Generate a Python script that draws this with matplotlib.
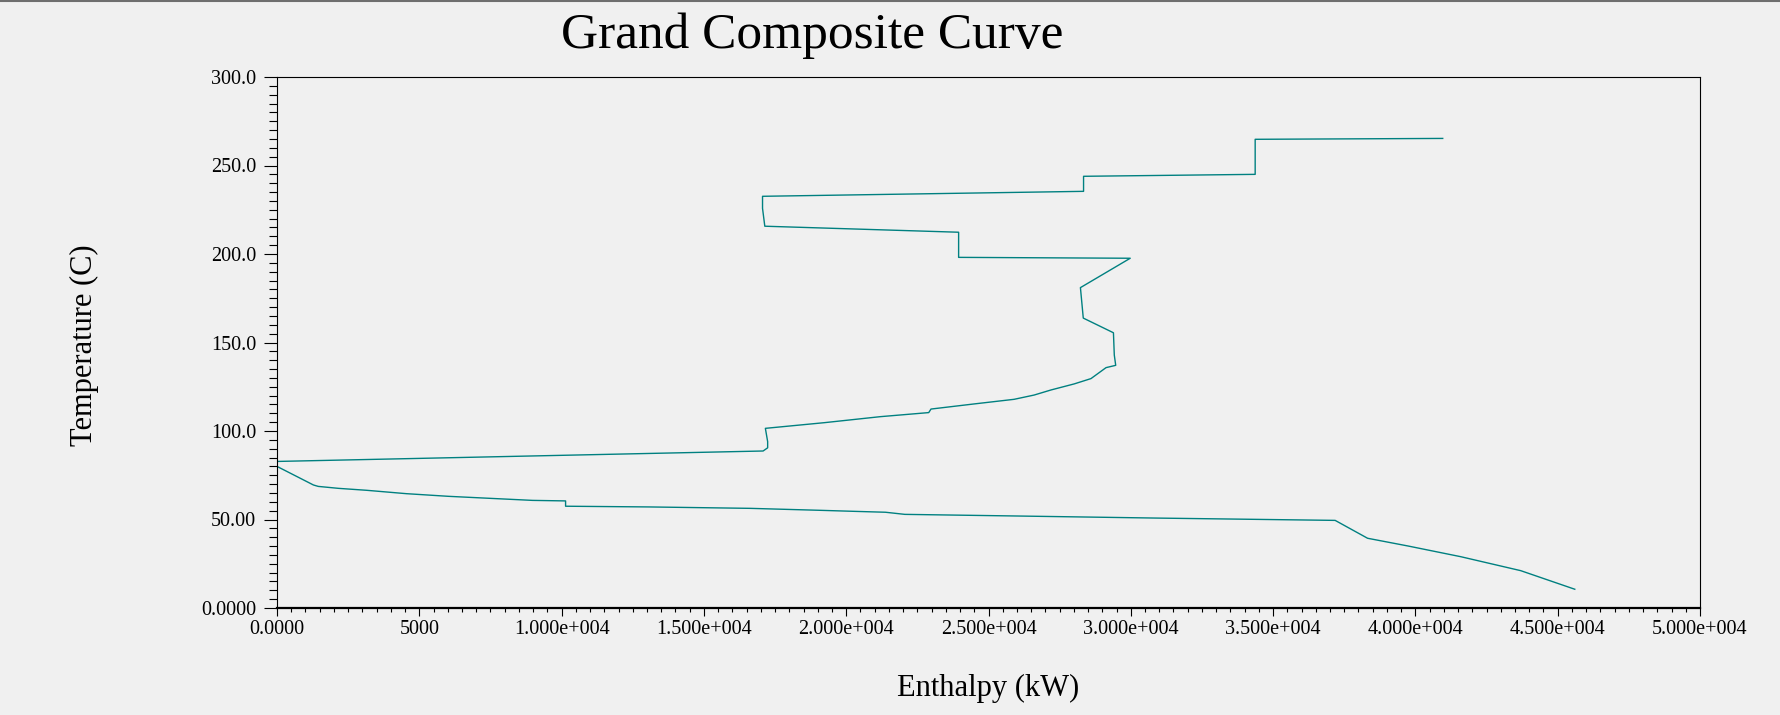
import matplotlib
matplotlib.use("Agg")
import matplotlib.pyplot as plt
from matplotlib.lines import Line2D
from matplotlib.ticker import MultipleLocator

# Grand composite curve : enthalpie (kW) et temperature (C), du haut vers le bas
enthalpie = [40960, 34370, 34370, 28340, 28340, 17060, 17060, 17140, 23950, 23950,
             29980, 28230, 28330, 29390, 29420, 29470, 29130, 28600, 28010, 27200,
             26600, 25900, 24500, 22980, 22900, 21200, 19230, 17160, 17240, 17240,
             17080, 0, 0, 1280, 1450, 2160, 3150, 4540, 6020, 7430,
             8980, 10140, 10140, 13060, 16630, 19060, 20300, 21380, 22060, 25900,
             30930, 37180, 38320, 39750, 41590, 43700, 45600]
temperature = [265.3, 264.8, 245.0, 243.9, 235.4, 232.6, 225.8, 215.7, 212.3, 198.1,
               197.6, 181.0, 163.8, 155.5, 142.9, 137.1, 135.8, 129.6, 126.6, 123.2,
               120.3, 117.9, 115.3, 112.4, 110.4, 108.1, 104.7, 101.5, 94.0, 90.5,
               88.7, 82.8, 80.0, 69.5, 68.7, 67.6, 66.5, 64.6, 63.1, 62.0,
               60.8, 60.5, 57.5, 57.1, 56.3, 55.2, 54.6, 54.1, 52.9, 52.0,
               50.8, 49.5, 39.4, 35.0, 29.0, 21.1, 10.6]

# Graduations et libelles des axes
x_ticks = [0, 5000, 10000, 15000, 20000, 25000, 30000, 35000, 40000, 45000, 50000]
x_labels = ["0.0000", "5000", "1.000e+004", "1.500e+004", "2.000e+004", "2.500e+004",
            "3.000e+004", "3.500e+004", "4.000e+004", "4.500e+004", "5.000e+004"]
y_ticks = [0, 50, 100, 150, 200, 250, 300]
y_labels = ["0.0000", "50.00", "100.0", "150.0", "200.0", "250.0", "300.0"]

fond = '#f0f0f0'
couleur = '#008080'
police = 'Liberation Serif'

plt.rcParams['font.family'] = [police, 'DejaVu Serif']

fig = plt.figure(figsize=(17.8, 7.15), dpi=100, facecolor=fond)
ax = fig.add_axes([277 / 1780, 1 - 608 / 715, 1423 / 1780, 531 / 715])
ax.set_facecolor(fond)

# La courbe
ax.plot(enthalpie, temperature, color=couleur, linewidth=1.0)

ax.set_xlim(0, 50000)
ax.set_ylim(0, 300)

ax.set_xticks(x_ticks)
ax.set_xticklabels(x_labels)
ax.set_yticks(y_ticks)
ax.set_yticklabels(y_labels)
ax.xaxis.set_minor_locator(MultipleLocator(500))
ax.yaxis.set_minor_locator(MultipleLocator(5))

ax.tick_params(axis='x', which='major', direction='out', length=5.5, width=0.8,
               pad=3.5, labelsize=14.5, colors='black')
ax.tick_params(axis='x', which='minor', direction='out', length=3, width=0.8)
ax.tick_params(axis='y', which='major', direction='out', length=9.7, width=0.8,
               pad=5.4, labelsize=14.5, colors='black')
ax.tick_params(axis='y', which='minor', direction='out', length=5.8, width=0.8)

for cote in ['top', 'right', 'left']:
    ax.spines[cote].set_linewidth(0.8)
ax.spines['bottom'].set_linewidth(1.6)

# Libelles des axes
ax.set_xlabel('Enthalpy (kW)', fontsize=22)
ax.xaxis.label.set_va('baseline')
ax.xaxis.set_label_coords(0.5, (608 - 696) / 531)
ax.set_ylabel('Temperature (C)', fontsize=22)
ax.yaxis.label.set_va('center')
ax.yaxis.set_label_coords((84 - 277) / 1423, (608 - 345) / 531)

# Titre
fig.text(812 / 1780, 1 - 48 / 715, 'Grand Composite Curve', fontsize=37,
         ha='center', va='baseline')

# Bordure grise en haut de la fenetre
fig.add_artist(Line2D([0, 1], [0.999, 0.999], transform=fig.transFigure,
                      color='#6e6e6e', linewidth=1.5))

fig.savefig('out.png', dpi=100, facecolor=fond)
